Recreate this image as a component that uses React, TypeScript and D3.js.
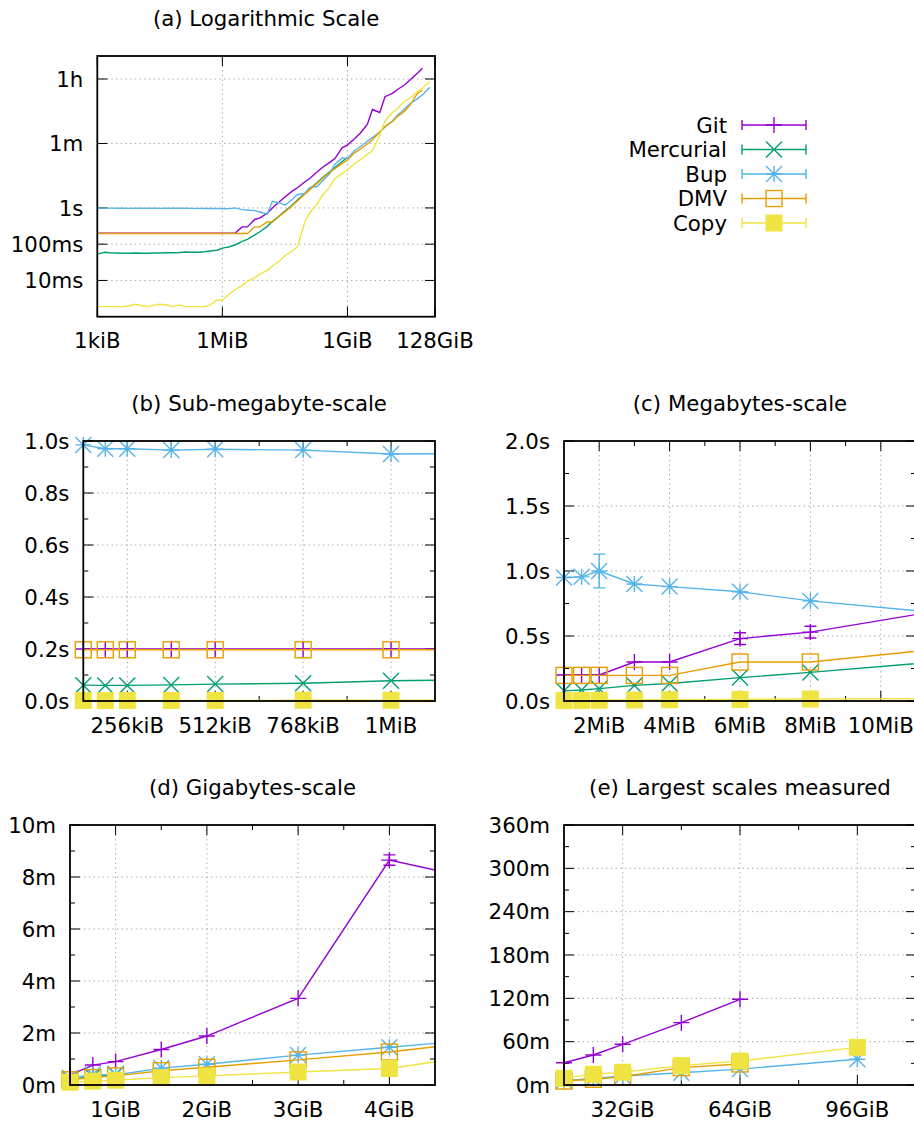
import React from 'react';
import * as d3 from 'd3';

// ---------- DATA ----------
// file sizes measured (KiB)
const sizeKiB = [1, 1.5, 2, 3, 4, 6, 8, 12, 16, 24, 32, 48, 64, 96, 128, 192, 256, 384, 512, 768,
  1024, 1536, 2048, 3072, 4096, 6144, 8192, 12288, 16384, 24576, 32768, 49152, 65536, 98304,
  131072, 196608, 262144, 393216, 524288, 786432, 1048576, 1572864, 2097152, 3145728, 4194304,
  6291456, 8388608, 12582912, 16777216, 25165824, 33554432, 50331648, 67108864, 100663296];

// times in seconds
const gitSec = [0.2, 0.2, 0.2, 0.2, 0.2, 0.2, 0.2, 0.2, 0.2, 0.2, 0.2, 0.2, 0.2, 0.2, 0.2, 0.2, 0.2, 0.2, 0.2, 0.2,
  0.2, 0.2, 0.2, 0.3, 0.3, 0.48, 0.53, 0.71, 1.0, 1.5, 2.0, 2.9, 3.6, 5.2,
  6.6, 10, 13, 18, 23, 46, 54, 82, 113, 200, 519,
  428, 1170, 1440, 1850, 2490, 3380, 5180, 7120, null];
const mercurialSec = [0.053, 0.06, 0.058, 0.057, 0.056, 0.056, 0.057, 0.056, 0.056, 0.057, 0.057, 0.058, 0.058, 0.059, 0.061, 0.06, 0.06, 0.062, 0.065, 0.068,
  0.078, 0.085, 0.095, 0.12, 0.135, 0.18, 0.22, 0.31, 0.42, 0.62, 0.82, 1.2, 1.65, 2.5,
  3.3, 5.0, 6.8, 10, 13, 19, 25, null, null, null, null,
  null, null, null, null, null, null, null, null, null];
const bupSec = [0.99, 0.99, 0.985, 0.98, 0.985, 0.975, 0.985, 0.98, 0.985, 0.98, 0.975, 0.98, 0.985, 0.98, 0.985, 0.97, 0.97, 0.965, 0.968, 0.965,
  0.95, 0.955, 1.0, 0.9, 0.88, 0.84, 0.77, 0.67, 1.53, 1.37, 1.19, 1.7, 2.35, 2.5,
  3.7, 3.9, 5.5, 8.9, 16, 24, 23, 39, 48, 69, 87,
  123, 170, 250, 360, 540, 750, 1020, 1320, 2140];
const dmvSec = [0.197, 0.197, 0.197, 0.197, 0.197, 0.197, 0.197, 0.197, 0.197, 0.197, 0.197, 0.197, 0.197, 0.197, 0.197, 0.197, 0.197, 0.197, 0.197, 0.197,
  0.197, 0.197, 0.197, 0.197, 0.197, 0.3, 0.3, 0.41, 0.41, 0.6, 0.78, 1.15, 1.55, 2.4,
  3.2, 4.8, 6.5, 9.5, 12, 17, 21, 33, 41, 58, 76,
  125, 175, 240, 330, 475, 690, 1440, 1750, null];
const copySec = [0.0019, 0.0019, 0.0019, 0.0019, 0.0019, 0.002, 0.0022, 0.002, 0.0019, 0.0021, 0.0022, 0.0021, 0.0019, 0.0021, 0.0019, 0.0019, 0.0019, 0.0019, 0.0021, 0.0029,
  0.0029, 0.0043, 0.0055, 0.0073, 0.0095, 0.012, 0.015, 0.019, 0.025, 0.035, 0.048, 0.065, 0.084, 0.41,
  0.75, 1.3, 2.2, 3.8, 6.5, 9, 11, 17, 21, 30, 38,
  101, 250, 420, 550, 890, 1060, 1610, 1990, 3130];

const seriesNames = ['Git', 'Mercurial', 'Bup', 'DMV', 'Copy'];
const seriesColors = ['#9400d3', '#009e73', '#56b4e9', '#e69f00', '#f0e442'];
const seriesMarkers = ['plus', 'cross', 'star', 'square', 'filled'];
const seriesValues = [gitSec, mercurialSec, bupSec, dmvSec, copySec];

// error bars (±seconds)
const errSeries = ['Bup', 'Git', 'Git', 'Git'];
const errSizeKiB = [2048, 6144, 8192, 4194304];
const errSec = [0.13, 0.045, 0.045, 12];

// tick labels
const aXTicks = [1, 1024, 1048576, 134217728];
const aXLabels = ['1kiB', '1MiB', '1GiB', '128GiB'];
const aYTicks = [0.01, 0.1, 1, 60, 3600];
const aYLabels = ['10ms', '100ms', '1s', '1m', '1h'];

const bXTicks = [256, 512, 768, 1024];
const bXLabels = ['256kiB', '512kiB', '768kiB', '1MiB'];
const bXMinor = [384, 640, 896];
const bYTicks = [0, 0.2, 0.4, 0.6, 0.8, 1.0];
const bYLabels = ['0.0s', '0.2s', '0.4s', '0.6s', '0.8s', '1.0s'];
const bYMinor = [0.1, 0.3, 0.5, 0.7, 0.9];

const cXTicks = [2, 4, 6, 8, 10];
const cXLabels = ['2MiB', '4MiB', '6MiB', '8MiB', '10MiB'];
const cXMinor = [3, 5, 7, 9];
const cYTicks = [0, 0.5, 1, 1.5, 2];
const cYLabels = ['0.0s', '0.5s', '1.0s', '1.5s', '2.0s'];
const cYMinor = [0.25, 0.75, 1.25, 1.75];

const dXTicks = [1, 2, 3, 4];
const dXLabels = ['1GiB', '2GiB', '3GiB', '4GiB'];
const dXMinor = [1.5, 2.5, 3.5];
const dYTicks = [0, 2, 4, 6, 8, 10];
const dYLabels = ['0m', '2m', '4m', '6m', '8m', '10m'];
const dYMinor = [1, 3, 5, 7, 9];

const eXTicks = [32, 64, 96];
const eXLabels = ['32GiB', '64GiB', '96GiB'];
const eXMinor = [48, 80];
const eYTicks = [0, 60, 120, 180, 240, 300, 360];
const eYLabels = ['0m', '60m', '120m', '180m', '240m', '300m', '360m'];
const eYMinor = [30, 90, 150, 210, 270, 330];

// ---------- LAYOUT ----------
const W = 914;
const H = 1122;
const FONT = "'DejaVu Sans', sans-serif";
const FS = 21.3;

type PanelDef = {
  id: string; title: string;
  left: number; right: number; top: number; bottom: number;
  x: (kib: number) => number; y: (sec: number) => number;
  xt: { px: number; label: string }[]; xm: number[];
  yt: { px: number; label: string }[]; ym: number[];
  markers: boolean;
};

function linPanel(id: string, title: string, box: number[], xUnit: number, xDom: number[], yUnit: number, yDom: number[],
  xT: number[], xL: string[], xM: number[], yT: number[], yL: string[], yM: number[]): PanelDef {
  const [left, top, right, bottom] = box;
  const xs = d3.scaleLinear().domain(xDom).range([left, right]);
  const ys = d3.scaleLinear().domain(yDom).range([bottom, top]);
  return {
    id, title, left, right, top, bottom,
    x: (k) => xs(k / xUnit), y: (s) => ys(s / yUnit),
    xt: xT.map((v, i) => ({ px: xs(v), label: xL[i] })), xm: xM.map((v) => xs(v)),
    yt: yT.map((v, i) => ({ px: ys(v), label: yL[i] })), ym: yM.map((v) => ys(v)),
    markers: true,
  };
}

const aX = d3.scaleLog().base(2).domain([1, 134217728]).range([97.3, 435]);
const aY = d3.scaleLog().domain([0.001, 15500]).range([316.7, 56]);

const panels: PanelDef[] = [
  {
    id: 'a', title: '(a) Logarithmic Scale', left: 97.3, right: 435, top: 56, bottom: 316.7,
    x: (k) => aX(k), y: (s) => aY(s),
    xt: aXTicks.map((v, i) => ({ px: aX(v), label: aXLabels[i] })), xm: [],
    yt: aYTicks.map((v, i) => ({ px: aY(v), label: aYLabels[i] })), ym: [],
    markers: false,
  },
  linPanel('b', '(b) Sub-megabyte-scale', [83.3, 441, 435, 701], 1, [128, 1152], 1, [0, 1],
    bXTicks, bXLabels, bXMinor, bYTicks, bYLabels, bYMinor),
  linPanel('c', '(c) Megabytes-scale', [564, 441, 916, 701], 1024, [1, 11], 1, [0, 2],
    cXTicks, cXLabels, cXMinor, cYTicks, cYLabels, cYMinor),
  linPanel('d', '(d) Gigabytes-scale', [70, 825, 435, 1085], 1048576, [0.5, 4.5], 60, [0, 10],
    dXTicks, dXLabels, dXMinor, dYTicks, dYLabels, dYMinor),
  linPanel('e', '(e) Largest scales measured', [564, 825, 916, 1085], 1048576, [16, 112], 60, [0, 360],
    eXTicks, eXLabels, eXMinor, eYTicks, eYLabels, eYMinor),
];

function Marker({ kind, x, y, color }: { kind: string; x: number; y: number; color: string }) {
  const s = 8;
  const sw = 1.4;
  if (kind === 'plus')
    return <path d={`M${x - s},${y}H${x + s}M${x},${y - s}V${y + s}`} stroke={color} strokeWidth={sw} fill="none" />;
  if (kind === 'cross')
    return <path d={`M${x - s},${y - s}L${x + s},${y + s}M${x - s},${y + s}L${x + s},${y - s}`} stroke={color} strokeWidth={sw} fill="none" />;
  if (kind === 'star')
    return <path d={`M${x - s},${y}H${x + s}M${x},${y - s}V${y + s}M${x - s},${y - s}L${x + s},${y + s}M${x - s},${y + s}L${x + s},${y - s}`} stroke={color} strokeWidth={sw} fill="none" />;
  if (kind === 'square')
    return <rect x={x - s} y={y - s} width={2 * s} height={2 * s} stroke={color} strokeWidth={sw} fill="none" />;
  return <rect x={x - 8.5} y={y - 8.5} width={17} height={17} fill={color} stroke="none" />;
}

function Panel({ p }: { p: PanelDef }) {
  const { left, right, top, bottom } = p;
  const clipId = 'clip-' + p.id;
  const inX = (px: number) => px >= left - 0.5 && px <= right + 0.5;
  const inY = (py: number) => py >= top - 0.5 && py <= bottom + 0.5;
  const majorLen = 10;
  const minorLen = 5;
  const tickPath: string[] = [];
  p.xt.forEach((t) => { tickPath.push(`M${t.px},${bottom}v${-majorLen}M${t.px},${top}v${majorLen}`); });
  p.xm.forEach((px) => { tickPath.push(`M${px},${bottom}v${-minorLen}M${px},${top}v${minorLen}`); });
  p.yt.forEach((t) => { tickPath.push(`M${left},${t.px}h${majorLen}M${right},${t.px}h${-majorLen}`); });
  p.ym.forEach((py) => { tickPath.push(`M${left},${py}h${minorLen}M${right},${py}h${-minorLen}`); });

  const gridX = p.xt.filter((t) => t.px > left + 1 && t.px < right - 1);
  const gridY = p.yt.filter((t) => t.px > top + 1 && t.px < bottom - 1);

  return (
    <g>
      <defs>
        <clipPath id={clipId}>
          <rect x={left} y={top} width={right - left} height={bottom - top} />
        </clipPath>
      </defs>
      {/* grid */}
      {gridX.map((t, i) => (
        <line key={'gx' + i} x1={t.px} x2={t.px} y1={top} y2={bottom} stroke="#a0a0a0" strokeWidth={1} strokeDasharray="1.3 3.4" />
      ))}
      {gridY.map((t, i) => (
        <line key={'gy' + i} x1={left} x2={right} y1={t.px} y2={t.px} stroke="#a0a0a0" strokeWidth={1} strokeDasharray="1.3 3.4" />
      ))}
      <path d={tickPath.join('')} stroke="#000" strokeWidth={1} fill="none" />
      {/* labels */}
      {p.xt.map((t, i) => (
        <text key={'xl' + i} x={t.px} y={bottom + 31.5} textAnchor="middle" fontFamily={FONT} fontSize={FS}>{t.label}</text>
      ))}
      {p.yt.map((t, i) => (
        <text key={'yl' + i} x={left - 14} y={t.px} dy="0.36em" textAnchor="end" fontFamily={FONT} fontSize={FS}>{t.label}</text>
      ))}
      <text x={(left + right) / 2} y={top - 30} textAnchor="middle" fontFamily={FONT} fontSize={FS}>{p.title}</text>
      {/* series */}
      {seriesValues.map((vals, si) => {
        const color = seriesColors[si];
        const pts = sizeKiB.map((k, i) => ({ k, v: vals[i], i }));
        const inside = pts.filter((d) => d.v != null && inX(p.x(d.k)));
        let first = -1;
        let last = -1;
        pts.forEach((d, i) => { if (d.v != null && inX(p.x(d.k))) { if (first < 0) first = i; last = i; } });
        const seg = first < 0 ? [] : pts.slice(Math.max(0, first - 1), Math.min(pts.length, last + 2));
        const line = d3.line<{ k: number; v: number | null }>()
          .defined((d) => d.v != null)
          .x((d) => p.x(d.k))
          .y((d) => p.y(d.v as number));
        const errs = errSeries.map((s, ei) => ({ s, k: errSizeKiB[ei], e: errSec[ei] }))
          .filter((e) => e.s === seriesNames[si]);
        return (
          <g key={'s' + si}>
            <path d={line(seg) || ''} stroke={color} strokeWidth={1.4} fill="none" clipPath={`url(#${clipId})`} />
            {p.markers && errs.map((e, ei) => {
              const idx = sizeKiB.indexOf(e.k);
              const v = vals[idx];
              if (v == null) return null;
              const px = p.x(e.k);
              if (!inX(px)) return null;
              const y1 = p.y(v - e.e);
              const y2 = p.y(v + e.e);
              return (
                <path key={'e' + ei} d={`M${px},${y1}V${y2}M${px - 6},${y1}h12M${px - 6},${y2}h12`} stroke={color} strokeWidth={1.4} fill="none" />
              );
            })}
            {p.markers && inside.map((d) => {
              const px = p.x(d.k);
              const py = p.y(d.v as number);
              if (!inY(py)) return null;
              return <Marker key={'m' + d.i} kind={seriesMarkers[si]} x={px} y={py} color={color} />;
            })}
          </g>
        );
      })}
      <rect x={left} y={top} width={right - left} height={bottom - top} fill="none" stroke="#000" strokeWidth={1.8} />
    </g>
  );
}

function Legend() {
  const textX = 727;
  const x1 = 742;
  const x2 = 806;
  const rows = [125, 149.5, 174, 198.5, 223];
  return (
    <g>
      {seriesNames.map((n, i) => {
        const y = rows[i];
        const c = seriesColors[i];
        return (
          <g key={n}>
            <text x={textX} y={y} dy="0.36em" textAnchor="end" fontFamily={FONT} fontSize={FS}>{n}</text>
            <path d={`M${x1},${y}H${x2}M${x1},${y - 5}v10M${x2},${y - 5}v10`} stroke={c} strokeWidth={1.4} fill="none" />
            <Marker kind={seriesMarkers[i]} x={(x1 + x2) / 2} y={y} color={c} />
          </g>
        );
      })}
    </g>
  );
}

export default function App() {
  return (
    <svg width={W} height={H} viewBox={`0 0 ${W} ${H}`} style={{ position: 'absolute', left: 0, top: 0, background: '#fff' }}>
      <rect x={0} y={0} width={W} height={H} fill="#fff" />
      {panels.map((p) => <Panel key={p.id} p={p} />)}
      <Legend />
    </svg>
  );
}
